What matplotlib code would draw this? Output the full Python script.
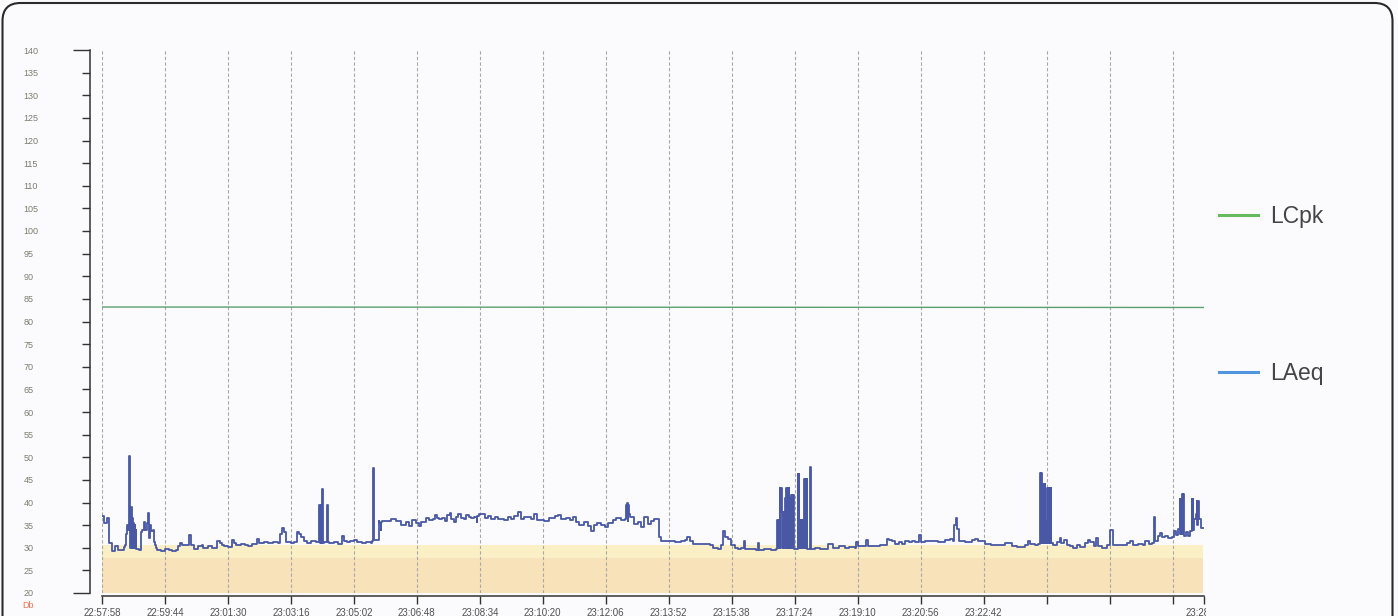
import matplotlib
matplotlib.use('Agg')
import matplotlib.pyplot as plt
from matplotlib.lines import Line2D
from matplotlib.patches import FancyBboxPatch
from matplotlib.transforms import IdentityTransform, Bbox

plt.rcParams['font.family'] = ['Liberation Sans', 'DejaVu Sans']

# Tiempo en segundos desde 22:57:58
tick_sec = [0, 106, 212, 318, 424, 530, 636, 742, 848, 954, 1060, 1166,
            1272, 1378, 1484, 1590, 1696, 1802, 1855]
tick_labels = ['22:57:58', '22:59:44', '23:01:30', '23:03:16', '23:05:02',
               '23:06:48', '23:08:34', '23:10:20', '23:12:06', '23:13:52',
               '23:15:38', '23:17:24', '23:19:10', '23:20:56', '23:22:42',
               '', '', '', '23:28:53']

y_major = [25, 30, 35, 40, 45, 50, 55, 60, 65, 70, 75, 80, 85, 90, 95, 100,
           105, 110, 115, 120, 125, 130, 135]
y_ends = [20, 140]

# LCpk (linea casi constante)
lcpk_sec = [0, 1854]
lcpk_db = [83.2, 83.1]

# Franja de fondo
band_sec = [0, 1854]
band_low = 20
band_mid = 27.8
band_top = 30.5

# LAeq
laeq_sec = [
    0, 4, 8, 12, 16, 22, 27, 34, 37, 39, 40, 42, 44, 46, 47, 48, 49, 50, 51, 52,
    53, 54, 55, 56, 57, 58, 62, 66, 68, 70, 71, 72, 76, 78, 79, 80, 83, 86, 87, 89,
    91, 93, 100, 106, 112, 118, 124, 128, 131, 134, 137, 146, 150, 155, 162, 168, 170, 178, 186, 194,
    198, 202, 205, 212, 218, 222, 226, 234, 240, 245, 252, 261, 265, 272, 280, 288, 296, 300, 303, 306,
    310, 318, 323, 328, 331, 335, 340, 345, 352, 360,
    366, 367, 368, 369, 370, 371, 372, 373, 379, 380, 382, 390, 398, 404, 407, 412, 418, 425, 430, 437,
    444, 452, 455, 457, 458, 466, 467, 469, 470, 472, 475, 486, 495, 504, 512, 517, 522, 528, 533, 537,
    545, 551, 557, 561, 564, 568, 573, 577, 581, 585, 588, 592, 596, 600, 604, 609, 613, 617, 621, 627,
    631, 632, 635, 644, 649, 655, 661, 666, 672, 677, 683, 689, 694, 701, 705, 711, 717, 722, 728, 733,
    744, 753, 762, 767, 773, 781, 787, 792, 798, 803, 812, 818, 823, 829, 834, 840, 846, 851, 860, 865,
    874, 880, 882, 883, 884, 885, 886, 887, 888, 896, 902, 907, 913, 919, 924, 930, 937, 941, 947, 952,
    964, 975, 981, 985, 989, 995, 1003, 1014, 1023, 1028, 1037, 1042, 1045, 1048, 1053, 1059, 1065, 1070, 1076, 1080,
    1083, 1093, 1101,
    1104, 1106, 1115, 1126, 1135, 1137, 1138, 1139, 1140, 1141, 1142, 1143, 1144, 1145, 1146, 1147, 1148, 1149, 1150, 1151,
    1152, 1153, 1154, 1155, 1156, 1157, 1158, 1159, 1160, 1161, 1162, 1163, 1164, 1165, 1171, 1172, 1173, 1174, 1175, 1176,
    1177, 1178, 1179, 1180, 1181, 1182, 1183, 1184, 1185, 1186, 1187, 1192, 1193, 1200, 1208, 1215, 1222, 1231, 1240, 1250,
    1258, 1267, 1270, 1273, 1282, 1286, 1289, 1300, 1310, 1321, 1324, 1330, 1335, 1341, 1346, 1352, 1358, 1364, 1369, 1375,
    1378, 1386, 1397, 1408, 1419, 1427, 1433, 1435, 1437, 1439, 1440, 1442, 1453, 1464,
    1469, 1475, 1486, 1497, 1509, 1520, 1531, 1540, 1548, 1554, 1558, 1562, 1570, 1576, 1579, 1580, 1581, 1582, 1583, 1584,
    1585, 1586, 1587, 1588, 1589, 1590, 1591, 1592, 1593, 1594, 1595, 1596, 1597, 1598, 1601, 1607, 1613, 1615, 1620, 1624,
    1629, 1635, 1641, 1646, 1655, 1660, 1663, 1669, 1673, 1676, 1683, 1691, 1697, 1701, 1706, 1716, 1725, 1730, 1736, 1744,
    1753, 1756, 1762, 1767, 1771, 1772, 1777, 1781, 1784, 1790, 1795, 1801, 1805, 1808, 1812, 1814, 1815, 1816, 1817, 1818,
    1819, 1820, 1822, 1824, 1828, 1832, 1834, 1835, 1836, 1837, 1839, 1841, 1843, 1844, 1845, 1847, 1850, 1854,
]
laeq_db = [
    37.0, 35.5, 36.5, 31.0, 29.3, 30.3, 29.4, 29.5, 30.2, 30.6, 33.0, 35.0, 34.0, 50.2, 30.0, 35.0, 39.0, 30.0, 36.5, 30.0,
    35.5, 30.0, 35.0, 30.0, 34.0, 29.8, 29.6, 33.5, 34.0, 35.3, 35.8, 34.0, 35.5, 37.6, 32.2, 35.0, 33.7, 34.0, 31.3, 30.6,
    29.9, 29.5, 29.3, 29.8, 29.4, 29.2, 29.6, 30.4, 31.0, 30.5, 30.6, 32.8, 30.5, 29.8, 30.3, 30.6, 29.9, 30.3, 30.0, 31.6,
    31.0, 30.5, 30.3, 30.1, 31.7, 31.0, 30.7, 30.9, 30.6, 30.4, 30.8, 31.9, 31.0, 31.3, 31.0, 31.2, 31.0, 33.0, 34.3, 33.5,
    31.3, 31.0, 31.2, 33.5, 33.0, 32.3, 31.4, 31.0, 31.6, 31.2,
    39.5, 31.0, 39.5, 31.0, 39.5, 43.0, 31.0, 31.2, 39.5, 31.3, 31.0, 31.2, 30.8, 32.5, 31.6, 31.3, 31.5, 31.8, 31.3, 31.0,
    31.3, 31.0, 31.6, 47.7, 31.8, 35.9, 35.5, 34.0, 35.8, 36.0, 35.9, 36.4, 36.0, 35.1, 35.7, 34.9, 36.2, 35.4, 34.8, 35.8,
    36.5, 36.1, 36.3, 37.2, 36.5, 36.3, 36.5, 35.9, 37.2, 37.7, 36.3, 35.6, 36.9, 37.4, 36.5, 36.3, 37.2, 36.9, 36.5, 36.8,
    35.6, 37.1, 37.4, 36.6, 37.1, 36.4, 36.8, 36.3, 36.4, 36.1, 36.8, 36.4, 37.1, 38.0, 36.4, 36.9, 36.7, 36.4, 37.5, 36.2,
    36.0, 36.6, 37.0, 37.3, 36.4, 36.6, 36.2, 36.8, 35.8, 35.1, 35.6, 34.7, 33.8, 35.0, 35.4, 35.0, 34.6, 35.4, 36.1, 36.5,
    36.1, 36.4, 39.5, 36.5, 39.8, 36.0, 39.5, 37.5, 36.8, 35.3, 35.8, 34.6, 36.8, 35.3, 36.0, 36.4, 32.3, 31.6, 31.4, 31.6,
    31.2, 31.5, 31.7, 32.4, 31.5, 30.8, 30.9, 30.8, 30.6, 30.0, 29.8, 30.7, 33.7, 32.3, 32.0, 30.7, 29.9, 29.8, 29.9, 31.6,
    29.8, 29.7, 29.4,
    31.0, 29.5, 29.7, 29.4, 29.7, 36.1, 30.0, 36.1, 30.0, 43.1, 30.0, 43.1, 38.0, 37.9, 30.0, 37.9, 30.0, 37.9, 40.9, 30.0,
    43.2, 30.0, 43.2, 30.0, 43.2, 30.0, 40.9, 30.0, 41.6, 30.0, 41.6, 30.0, 41.6, 29.8, 46.4, 30.0, 46.4, 30.0, 36.1, 30.0,
    36.1, 30.0, 36.1, 30.0, 36.1, 45.3, 30.0, 45.3, 30.0, 45.3, 29.8, 47.8, 29.8, 29.9, 29.7, 29.8, 30.8, 30.0, 30.3, 30.0,
    30.2, 30.0, 31.3, 30.4, 30.3, 31.7, 30.4, 30.3, 30.5, 32.0, 31.7, 31.6, 30.9, 31.2, 30.9, 31.4, 31.2, 31.6, 31.2, 32.8,
    31.2, 31.4, 31.6, 31.3, 31.7, 32.0, 31.6, 35.0, 36.5, 35.4, 34.2, 31.5, 31.3, 31.8,
    32.0, 31.5, 30.9, 30.5, 30.7, 31.0, 30.4, 30.1, 30.2, 30.6, 31.4, 30.8, 30.6, 30.9, 46.6, 31.0, 46.6, 31.0, 44.0, 31.0,
    44.0, 31.0, 44.0, 31.0, 36.0, 31.0, 43.2, 31.0, 43.2, 31.0, 43.2, 31.0, 43.2, 31.0, 30.7, 31.3, 32.2, 31.1, 31.8, 30.7,
    30.3, 29.9, 30.5, 30.1, 31.0, 31.7, 31.2, 30.3, 32.1, 30.3, 29.9, 30.6, 33.9, 30.6, 30.5, 30.7, 31.1, 31.6, 30.7, 30.9,
    30.7, 31.6, 30.9, 31.1, 36.7, 31.4, 32.7, 33.3, 32.3, 32.7, 32.1, 32.4, 33.8, 32.8, 34.1, 40.7, 33.0, 40.7, 33.0, 41.9,
    33.0, 41.9, 32.6, 33.4, 32.6, 33.7, 40.7, 34.0, 40.7, 34.0, 36.3, 37.4, 40.3, 35.0, 40.3, 36.3, 34.4, 34.4,
]

fig = plt.figure(figsize=(13.98, 6.16), dpi=100, facecolor='#fbfbfd')
ax = fig.add_axes([102 / 1398, 1 - 593 / 616, 1102 / 1398, 543 / 616])
ax.set_facecolor('none')

# Franja amarilla
ax.fill_between(band_sec, band_low, band_mid, color='#f7e2b9', lw=0, zorder=1)
ax.fill_between(band_sec, band_mid, band_top, color='#fbf0c5', lw=0, zorder=1)

# Lineas verticales punteadas
ax.vlines(tick_sec[:-1], y_ends[0], y_ends[1], colors='#a8a8a8',
          linestyles=(0, (3, 2)), lw=0.8, zorder=2)

ax.plot(lcpk_sec, lcpk_db, color='#5aa06e', lw=1.0, zorder=3)
ax.plot(laeq_sec, laeq_db, color='#4858a5', lw=1.3, drawstyle='steps-post', zorder=4)

ax.set_xlim(0, 1855)
ax.set_ylim(20, 140)

for s in ['top', 'right']:
    ax.spines[s].set_visible(False)
ax.spines['left'].set_position(('outward', 8.6))
ax.spines['bottom'].set_position(('outward', 2.5))
for s in ['left', 'bottom']:
    ax.spines[s].set_color('#333333')
    ax.spines[s].set_linewidth(1.1)

ax.set_yticks(y_major)
ax.set_yticks(y_ends, minor=True)
ax.set_yticklabels([str(v) for v in y_major], fontsize=6.5, color='#7d7d70')
ax.set_yticklabels([str(v) for v in y_ends], minor=True, fontsize=6.5, color='#7d7d70')
ax.tick_params(axis='y', which='major', direction='out', length=6, width=1.0,
               color='#333333', pad=42)
ax.tick_params(axis='y', which='minor', direction='out', length=12, width=1.0,
               color='#333333', pad=36)
for lab in ax.get_yticklabels() + ax.get_yticklabels(minor=True):
    lab.set_horizontalalignment('left')

ax.set_xticks(tick_sec)
ax.set_xticklabels(tick_labels, fontsize=7, color='#505050')
ax.tick_params(axis='x', direction='out', length=6, width=1.0, color='#333333', pad=2)
last = ax.get_xticklabels()[-1]
last.set_clip_on(True)
last.set_clip_box(Bbox([[0, 0], [1206, 616]]))

fig.text(22 / 1398, 1 - 605 / 616, 'Db', fontsize=6.5, color='#f07050',
         va='center', ha='left')

handles = [Line2D([], [], color='#66bb5e', lw=2.2),
           Line2D([], [], color='#4f95e0', lw=2.2)]
fig.legend(handles, ['LCpk', 'LAeq'], loc='upper left',
           bbox_to_anchor=(1219 / 1398, 1 - 205 / 616), frameon=False,
           fontsize=16.5, labelcolor='#454545', handlelength=1.7,
           handletextpad=0.55, labelspacing=5.85, borderpad=0, borderaxespad=0)

# Marco redondeado del documento
marco = FancyBboxPatch((2.5, -60), 1390, 673, boxstyle='round,pad=0,rounding_size=18',
                       transform=IdentityTransform(), fc='none', ec='#2a2a2a', lw=1.5)
fig.add_artist(marco)

fig.savefig('out.png', dpi=100, facecolor=fig.get_facecolor())
